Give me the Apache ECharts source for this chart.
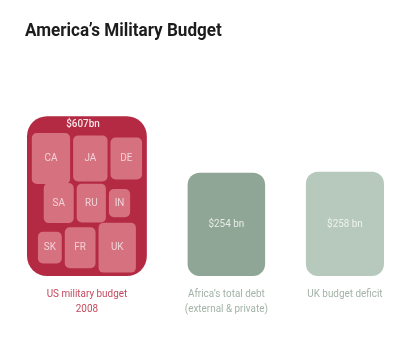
<!DOCTYPE html>
<html>
<head>
<meta charset="utf-8">
<script src="https://cdn.jsdelivr.net/npm/echarts@6/dist/echarts.min.js"></script>
<style>
  html, body { margin: 0; padding: 0; background: #ffffff; }
  #chart { width: 412px; height: 339px; }
</style>
</head>
<body>
<div id="chart"></div>
<script>
// Three headline sums, in $bn
const categories = ['US military budget\n2008', 'Africa\u2019s total debt\n(external & private)', 'UK budget deficit'];
const totals = [607, 254, 258];
const unitText = ['bn', ' bn', ' bn'];

// Military spending of other countries, shown inside the US box ($bn)
const countries = ['CA', 'JA', 'DE', 'SA', 'RU', 'IN', 'SK', 'FR', 'UK'];
const countrySpend = [62, 50, 42, 38, 36, 19, 24, 40, 59];

const boxColors = ['#b42a43', '#8fa595', '#b7c9bc'];
const captionColors = ['#c4495d', '#a2b3a7', '#a2b3a7'];
const valueColors = ['#f6e4e7', '#e6ede8', '#eef3ef'];
const ASPECT = 0.75;   // width / height of every box
const PER_ROW = 3;
const NARROW = 0.9;    // horizontal squeeze for a condensed-looking type

const chart = echarts.init(document.getElementById('chart'), null, { renderer: 'canvas' });

// Box height grows with sqrt(value) so that box area follows the value
function boxHeight(api, v) {
  return api.coord([0, 0])[1] - api.coord([0, Math.sqrt(v)])[1];
}

function narrowText(x, y, style) {
  return {
    type: 'text',
    x: x, y: y,
    scaleX: NARROW,
    style: Object.assign({ x: 0, y: 0 }, style)
  };
}

function renderItem(params, api) {
  const i = params.dataIndex;
  const v = api.value(1);
  const cs = params.coordSys;

  // Boxes are spread edge to edge across the plot width with equal gaps
  const heights = totals.map(t => boxHeight(api, t));
  const widths = heights.map(hh => hh * ASPECT);
  const gapX = (cs.width - widths.reduce((s, z) => s + z, 0)) / (totals.length - 1);
  let x0 = cs.x;
  for (let k = 0; k < i; k++) x0 += widths[k] + gapX;

  const h = heights[i];
  const w = widths[i];
  const bottom = api.coord([0, 0])[1];
  const y0 = bottom - h;
  const cxBox = x0 + w / 2;
  const children = [];

  children.push({
    type: 'rect',
    shape: { x: x0, y: y0, width: w, height: h, r: i === 0 ? 20 : 12 },
    style: { fill: boxColors[i] }
  });

  children.push(narrowText(cxBox - (i === 0 ? 4 : 0), i === 0 ? y0 + 8 : y0 + h / 2, {
    text: '$' + v + unitText[i],
    align: 'center',
    verticalAlign: 'middle',
    fill: valueColors[i],
    font: (i === 0 ? '500 ' : '400 ') + '11px Roboto'
  }));

  children.push(narrowText(cxBox, bottom + 11, {
    text: categories[i],
    align: 'center',
    verticalAlign: 'top',
    fill: captionColors[i],
    font: '400 11px Roboto',
    lineHeight: 15
  }));

  if (i === 0) {
    // Nested boxes, laid out in rows of three inside the big box
    const innerTop = y0 + 20;
    const innerBottom = bottom - 6;
    const rowH = (innerBottom - innerTop) / Math.ceil(countries.length / PER_ROW);
    const gap = 3;
    for (let r = 0; r * PER_ROW < countries.length; r++) {
      const idx = [];
      for (let c = 0; c < PER_ROW && r * PER_ROW + c < countries.length; c++) idx.push(r * PER_ROW + c);
      const sizes = idx.map(k => {
        const hh = boxHeight(api, countrySpend[k]);
        return { h: hh, w: hh * ASPECT };
      });
      const rowW = sizes.reduce((s, z) => s + z.w, 0) + gap * (sizes.length - 1);
      let cx = cxBox - rowW / 2;
      const cy = innerTop + rowH * (r + 0.5);
      idx.forEach((k, j) => {
        const z = sizes[j];
        children.push({
          type: 'rect',
          shape: { x: cx, y: cy - z.h / 2, width: z.w, height: z.h, r: 5 },
          style: { fill: '#d6717f' }
        });
        children.push(narrowText(cx + z.w / 2, cy, {
          text: countries[k],
          align: 'center',
          verticalAlign: 'middle',
          fill: '#f3d3d8',
          font: '400 11px Roboto'
        }));
        cx += z.w + gap;
      });
    }
  }

  return { type: 'group', children: children };
}

chart.setOption({
  animation: false,
  backgroundColor: '#ffffff',
  graphic: [{
    type: 'text',
    x: 25,
    y: 22,
    scaleX: NARROW,
    style: {
      text: 'America\u2019s Military Budget',
      fill: '#1c1c1c',
      font: '700 19px Roboto'
    }
  }],
  grid: { left: 27, right: 28, top: 49, bottom: 63 },
  xAxis: {
    type: 'category',
    data: categories,
    show: false
  },
  yAxis: {
    type: 'value',
    min: 0,
    max: 35,
    show: false
  },
  series: [{
    type: 'custom',
    renderItem: renderItem,
    clip: false,
    data: totals.map((v, i) => [i, v])
  }]
});
</script>
</body>
</html>
